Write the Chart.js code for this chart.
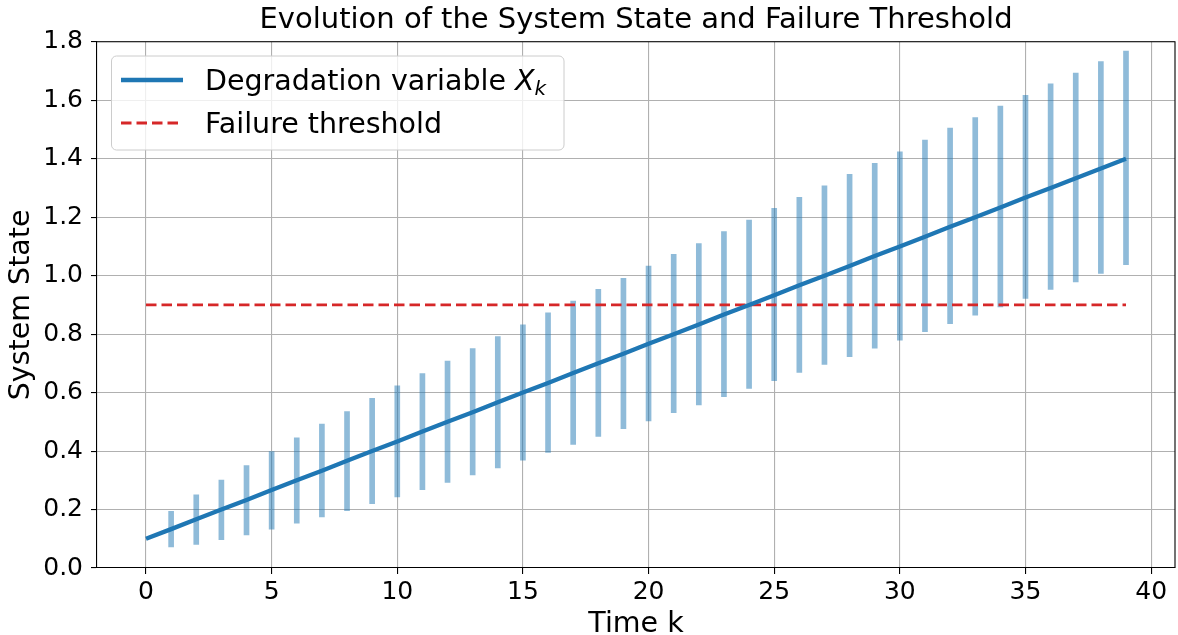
<!DOCTYPE html>
<html>
<head>
<meta charset="utf-8">
<script src="https://cdn.jsdelivr.net/npm/chart.js"></script>
<style>
  html, body { margin: 0; padding: 0; background: #fff; }
  #wrap { width: 1178px; height: 635px; }
</style>
</head>
<body>
<div id="wrap"><canvas id="stateChart" width="1178" height="635"></canvas></div>
<script>
// time steps and the degradation path
const timeSteps = [0,1,2,3,4,5,6,7,8,9,10,11,12,13,14,15,16,17,18,19,20,21,22,23,24,25,26,27,28,29,30,31,32,33,34,35,36,37,38,39];
const degradation = [0.100,0.133,0.167,0.200,0.233,0.267,0.300,0.333,0.367,0.400,0.433,0.467,0.500,0.533,0.567,0.600,0.633,0.667,0.700,0.733,0.767,0.800,0.833,0.867,0.900,0.933,0.967,1.000,1.033,1.067,1.100,1.133,1.167,1.200,1.233,1.267,1.300,1.333,1.367,1.400];

// spread bars, k = 1..39
const barSteps = timeSteps.slice(1);
const spreadLow = [0.072,0.081,0.097,0.113,0.133,0.153,0.175,0.196,0.220,0.243,0.268,0.293,0.318,0.342,0.369,0.395,0.423,0.450,0.477,0.503,0.531,0.558,0.586,0.614,0.641,0.669,0.696,0.723,0.752,0.779,0.808,0.836,0.865,0.893,0.922,0.953,0.979,1.008,1.038];
const spreadHigh = [0.194,0.250,0.301,0.350,0.398,0.445,0.492,0.535,0.580,0.623,0.665,0.708,0.751,0.792,0.832,0.873,0.913,0.953,0.991,1.033,1.073,1.110,1.151,1.190,1.230,1.268,1.307,1.347,1.384,1.424,1.464,1.505,1.541,1.580,1.617,1.656,1.693,1.732,1.768];

// failure threshold
const thresholdSteps = [0, 39];
const thresholdValues = [0.9, 0.9];

const xTicks = [0,5,10,15,20,25,30,35,40];
const yTicks = [0.0,0.2,0.4,0.6,0.8,1.0,1.2,1.4,1.6,1.8];

const FONT = 'DejaVu Sans';
Chart.defaults.font.family = FONT;
Chart.defaults.color = '#000';

// top and right spines + legend box (matplotlib style)
const framePlugin = {
  id: 'frame',
  afterDraw(chart) {
    const {ctx, chartArea: a} = chart;
    ctx.save();
    ctx.strokeStyle = '#000';
    ctx.lineWidth = 1.1;
    ctx.beginPath();
    ctx.moveTo(a.left, a.top);
    ctx.lineTo(a.right, a.top);
    ctx.lineTo(a.right, a.bottom);
    ctx.stroke();

    // legend
    const bx = 111.5, by = 56, bw = 452.5, bh = 94, r = 5;
    ctx.beginPath();
    ctx.moveTo(bx + r, by);
    ctx.arcTo(bx + bw, by, bx + bw, by + bh, r);
    ctx.arcTo(bx + bw, by + bh, bx, by + bh, r);
    ctx.arcTo(bx, by + bh, bx, by, r);
    ctx.arcTo(bx, by, bx + bw, by, r);
    ctx.closePath();
    ctx.fillStyle = 'rgba(255,255,255,0.8)';
    ctx.fill();
    ctx.strokeStyle = '#cccccc';
    ctx.lineWidth = 1;
    ctx.stroke();

    const ds = chart.data.datasets;
    const rows = [ds[0], ds[1]];
    const rowY = [80, 123];
    rows.forEach((d, i) => {
      ctx.beginPath();
      ctx.strokeStyle = d.borderColor;
      ctx.lineWidth = d.borderWidth;
      ctx.setLineDash(d.borderDash || []);
      ctx.moveTo(121, rowY[i]);
      ctx.lineTo(183, rowY[i]);
      ctx.stroke();
      ctx.setLineDash([]);
      ctx.fillStyle = '#000';
      ctx.textBaseline = 'alphabetic';
      ctx.textAlign = 'left';
      const base = rowY[i] + 9.5;
      const m = /^(.*)\s(\w)_(\w)$/.exec(d.label);
      if (m) {
        ctx.font = '28.5px "' + FONT + '"';
        const head = m[1] + ' ';
        ctx.fillText(head, 205, base);
        let x = 205 + ctx.measureText(head).width;
        ctx.font = 'italic 28.5px "' + FONT + '"';
        ctx.fillText(m[2], x, base);
        x += ctx.measureText(m[2]).width;
        ctx.font = 'italic 20px "' + FONT + '"';
        ctx.fillText(m[3], x, base + 5);
      } else {
        ctx.font = '28.5px "' + FONT + '"';
        ctx.fillText(d.label, 205, base);
      }
    });
    ctx.restore();
  }
};

new Chart(document.getElementById('stateChart'), {
  type: 'line',
  data: {
    datasets: [
      {
        label: 'Degradation variable X_k',
        data: timeSteps.map((k, i) => ({x: k, y: degradation[i]})),
        borderColor: '#1f77b4',
        borderWidth: 4.3,
        pointRadius: 0,
        tension: 0,
        order: 0
      },
      {
        label: 'Failure threshold',
        data: thresholdSteps.map((k, i) => ({x: k, y: thresholdValues[i]})),
        borderColor: '#d62728',
        borderWidth: 2.8,
        borderDash: [10.5, 5],
        pointRadius: 0,
        order: 1
      },
      {
        type: 'bar',
        label: 'spread',
        data: barSteps.map((k, i) => ({x: k, y: [spreadLow[i], spreadHigh[i]]})),
        backgroundColor: 'rgba(31,119,180,0.5)',
        borderWidth: 0,
        barThickness: 5,
        order: 2
      }
    ]
  },
  options: {
    responsive: false,
    devicePixelRatio: 1,
    animation: false,
    layout: { padding: { top: 0, right: 3, bottom: 0, left: 0 } },
    plugins: {
      legend: { display: false },
      tooltip: { enabled: false },
      title: {
        display: true,
        fullSize: false,
        text: 'Evolution of the System State and Failure Threshold',
        font: { size: 29, weight: 'normal' },
        color: '#000',
        padding: { top: 3, bottom: 4 }
      }
    },
    scales: {
      x: {
        type: 'linear',
        min: -1.95,
        max: 40.95,
        offset: false,
        afterFit(s) { s.height = 67; },
        afterBuildTicks(s) { s.ticks = xTicks.map(v => ({value: v})); },
        ticks: { font: { size: 25 }, color: '#000', padding: 3, maxRotation: 0, callback: v => String(v) },
        grid: { color: '#b0b0b0', lineWidth: 1.1, offset: false, tickColor: '#000', tickLength: 6, tickWidth: 1.1 },
        border: { color: '#000', width: 1.1 },
        title: { display: true, text: 'Time k', font: { size: 28.5 }, color: '#000', padding: { top: 0, bottom: -7 } }
      },
      y: {
        min: 0,
        max: 1.8,
        afterFit(s) { s.width = 97; },
        afterBuildTicks(s) { s.ticks = yTicks.map(v => ({value: v})); },
        ticks: { font: { size: 25 }, color: '#000', padding: 8, callback: v => Number(v).toFixed(1) },
        grid: { color: '#b0b0b0', lineWidth: 1.1, tickColor: '#000', tickLength: 6, tickWidth: 1.1 },
        border: { color: '#000', width: 1.1 },
        title: { display: true, text: 'System State', font: { size: 28.5 }, color: '#000', padding: { top: 4, bottom: 0 } }
      }
    }
  },
  plugins: [framePlugin]
});
</script>
</body>
</html>
